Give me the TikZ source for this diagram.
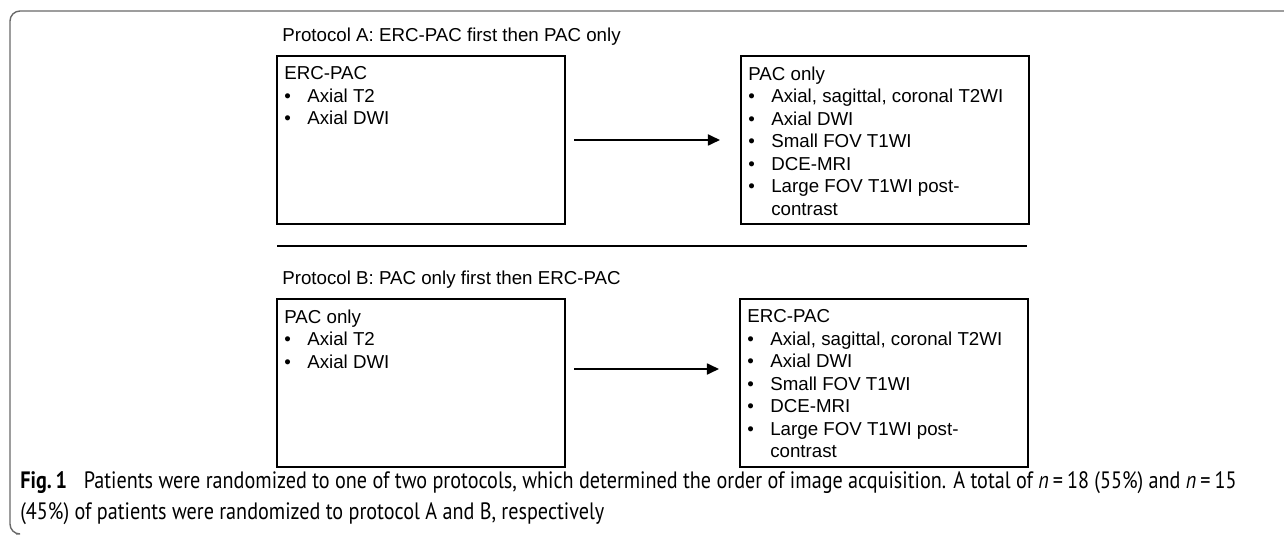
\documentclass[tikz,border=0pt]{standalone}
\usepackage{fontspec}
\setmainfont{Liberation Sans}
\newfontfamily\capfont[FakeStretch=0.85]{PT Sans}
\usetikzlibrary{arrows.meta, positioning}
\definecolor{framegray}{RGB}{105,105,105}
\newcommand{\itm}{\makebox[0.46cm][l]{\textbullet}}

\begin{document}
\begin{tikzpicture}[x=0.02cm, y=-0.02cm,
  box/.style={draw, line width=1.2pt, minimum width=5.76cm, minimum height=3.36cm, inner sep=0pt},
  list/.style={anchor=north west, align=left, inner sep=0pt, font=\fontsize{10.65pt}{12.8pt}\selectfont},
  title/.style={anchor=west, inner sep=0pt, font=\fontsize{10.65pt}{12.8pt}\selectfont},
  arr/.style={-{Triangle[length=0.24cm, width=0.22cm]}, line width=1pt, shorten <=0.16cm, shorten >=0.4cm}]
  \useasboundingbox (0,0) rectangle (1284,536);

  % Figure frame (open on the right and bottom)
  \draw[framegray, line width=0.8pt, rounded corners=0.2cm] (1284,11) -- (10,11) -- (10,534) -- (16,534);

  % Protocol A
  \node[title] (titleA) at (282,37) {Protocol A: ERC-PAC first then PAC only};
  \node[box] (a1) at (421,140) {};
  \node[box] (a2) at (885,140) {};
  \node[list] (a1list) at ([xshift=0.16cm, yshift=-0.23cm]a1.north west) {
    ERC-PAC\\
    \itm Axial T2\\
    \itm Axial DWI
  };
  \node[list] (a2list) at ([xshift=0.16cm, yshift=-0.23cm]a2.north west) {
    PAC only\\
    \itm Axial, sagittal, coronal T2WI\\
    \itm Axial DWI\\
    \itm Small FOV T1WI\\
    \itm DCE-MRI\\
    \itm Large FOV T1WI post-\\
    \hspace*{0.46cm}contrast
  };
  \draw[arr] (a1.east) -- (a2.west);

  % Separator
  \draw[line width=1.1pt] (277,246) -- (1027,246);

  % Protocol B
  \node[title] (titleB) at (282,280) {Protocol B: PAC only first then ERC-PAC};
  \node[box] (b1) at (421,383) {};
  \node[box] (b2) at (884,383) {};
  \node[list] (b1list) at ([xshift=0.16cm, yshift=-0.23cm]b1.north west) {
    PAC only\\
    \itm Axial T2\\
    \itm Axial DWI
  };
  \node[list] (b2list) at ([xshift=0.16cm, yshift=-0.23cm]b2.north west) {
    ERC-PAC\\
    \itm Axial, sagittal, coronal T2WI\\
    \itm Axial DWI\\
    \itm Small FOV T1WI\\
    \itm DCE-MRI\\
    \itm Large FOV T1WI post-\\
    \hspace*{0.46cm}contrast
  };
  \draw[arr] ([yshift=0.28cm]b1.east) -- ([yshift=0.28cm]b2.west);

  % Caption
  \node[anchor=west, align=left, inner sep=0pt, font=\capfont\fontsize{13.5pt}{17.6pt}\selectfont] (caption) at (20,498) {
    \textbf{Fig.\,1}\hspace{0.7em}Patients were randomized to one of two protocols, which determined the order of image acquisition. A total of \textit{n}\,=\,18 (55\%) and \textit{n}\,=\,15\\
    (45\%) of patients were randomized to protocol A and B, respectively
  };
\end{tikzpicture}
\end{document}
